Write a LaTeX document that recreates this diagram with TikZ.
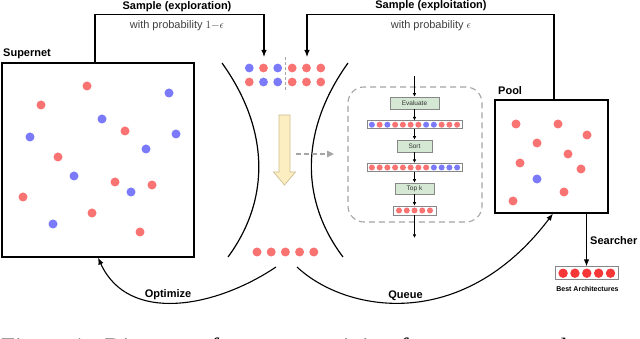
\documentclass[tikz,border=0pt]{standalone}
\usepackage{fontspec}
\setmainfont{Liberation Sans}
\newfontfamily\capfont{Liberation Serif}
\usetikzlibrary{arrows.meta}
\definecolor{dotred}{RGB}{250,115,115}
\definecolor{dotblue}{RGB}{122,122,250}
\definecolor{bestred}{RGB}{245,55,55}
\definecolor{stepgreen}{RGB}{212,232,212}
\definecolor{stepedge}{RGB}{135,135,135}
\definecolor{dashgray}{RGB}{165,165,165}
\definecolor{arrowyellow}{RGB}{252,238,192}
\definecolor{arrowedge}{RGB}{205,190,145}
\begin{document}
\begin{tikzpicture}[x=1pt,y=-1pt,
  every node/.style={inner sep=0pt},
  lbl/.style={font=\bfseries\fontsize{11}{13}\selectfont},
  prob/.style={font=\fontsize{11}{13}\selectfont, text=black!75},
  bigbox/.style={draw, line width=1.2pt},
  stepbox/.style={draw=stepedge, fill=stepgreen, line width=0.6pt, text=black!80, font=\fontsize{6.5}{7}\selectfont},
  rowbox/.style={draw=stepedge, fill=white, line width=0.6pt},
  arr/.style={line width=1.1pt, -{Latex[length=7pt,width=5.5pt]}},
  flow/.style={line width=0.7pt, -{Latex[length=3.5pt,width=3.5pt]}},
  funnel/.style={line width=1.2pt},
]
\useasboundingbox (0,0) rectangle (640,339);
\fill[white] (0,0) rectangle (640,339);
\clip (0,0) rectangle (640,339);

% ---- main boxes
\node[bigbox, minimum width=192pt, minimum height=194pt] (supernet) at (98,160) {};
\node[bigbox, minimum width=113pt, minimum height=113pt] (pool) at (551.5,156.5) {};
\node[lbl, anchor=west] (supernetlbl) at (3,53.5) {Supernet};
\node[lbl, anchor=west] (poollbl) at (498,91) {Pool};

% ---- supernet dots
\foreach \x/\y in {87/86, 41/105, 125/131, 58/157, 115/182, 152/185, 23/197, 92/213, 140/232}
  \fill[dotred] (\x,\y) circle (4.5pt);
\foreach \x/\y in {169/93, 102/119, 30/137, 176/134, 146/149, 74/176, 131/192, 53/224}
  \fill[dotblue] (\x,\y) circle (4.5pt);

% ---- pool dots
\foreach \x/\y in {516/124, 558/124, 587/135, 537/143, 568/154, 520/163, 581/169, 564/192, 513/201}
  \fill[dotred] (\x,\y) circle (4.5pt);
\fill[dotblue] (537,179) circle (4.5pt);

% ---- sampling arrows
\coordinate (explin) at (264,57);
\coordinate (exptin) at (307,57);
\draw[arr] ([xshift=-3pt]supernet.north) -- ++(0,-48) -| (explin);
\draw[arr] ([xshift=2.5pt]pool.north) -- ++(0,-85) -| (exptin);
\node[lbl] (explbl) at (177,6.5) {Sample (exploration)};
\node[prob] (explprob) at (177,25.5) {with probability $1{-}\epsilon$};
\node[lbl] (exptlbl) at (431,6) {Sample (exploitation)};
\node[prob] (exptprob) at (431,25.5) {with probability $\epsilon$};

% ---- sampled batch
\foreach \x/\c in {249.3/dotblue, 263.5/dotred, 277.7/dotblue, 292.2/dotred, 306.5/dotred, 320.8/dotred}
  \fill[\c] (\x,68) circle (4.4pt);
\foreach \x/\c in {249.3/dotred, 263.5/dotblue, 277.7/dotblue, 292.2/dotred, 306.5/dotred, 320.8/dotred}
  \fill[\c] (\x,82) circle (4.4pt);
\draw[dashgray, line width=0.8pt, dash pattern=on 3pt off 2pt] (285,57) -- (285,92);

% ---- funnel
\draw[funnel] (222,63) .. controls (270,130) and (270,200) .. (228,257);
\draw[funnel] (348,63) .. controls (300,130) and (300,200) .. (343,257);

% ---- yellow arrow
\filldraw[fill=arrowyellow, draw=arrowedge, line width=0.7pt]
  (279,115) -- (290,115) -- (290,172) -- (295.5,172) -- (284.5,185) -- (273.5,172) -- (279,172) -- cycle;

% ---- dashed gray arrow
\coordinate (dashstart) at (296,154);
\coordinate (dashend) at (334,154);
\draw[dashgray, line width=1.1pt, dash pattern=on 5pt off 3pt, -{Triangle[length=7pt,width=6.5pt]}] (dashstart) -- (dashend);

% ---- pipeline box
\node[draw=dashgray, line width=1.1pt, dash pattern=on 6pt off 4pt, rounded corners=16pt,
      minimum width=134pt, minimum height=135pt] (pipeline) at (415,154.5) {};

\node[stepbox, minimum width=49pt, minimum height=12pt] (evaluate) at (414.5,103) {Evaluate};
\node[rowbox, minimum width=95pt, minimum height=8pt] (row1) at (414.5,124.7) {};
\foreach \c [count=\i] in {dotblue,dotred,dotblue,dotred,dotred,dotred,dotred,dotblue,dotblue,dotred,dotred,dotred}
  \fill[\c] ({414.5+7.75*(\i-6.5)},124.7) circle (3pt);
\node[stepbox, minimum width=35pt, minimum height=12pt] (sort) at (414.5,146) {Sort};
\node[rowbox, minimum width=95pt, minimum height=8.4pt] (row2) at (414.5,167.5) {};
\foreach \c [count=\i] in {dotred,dotred,dotred,dotred,dotred,dotred,dotred,dotred,dotblue,dotblue,dotblue,dotblue}
  \fill[\c] ({414.5+7.75*(\i-6.5)},167.5) circle (3pt);
\node[stepbox, minimum width=39pt, minimum height=11pt] (topk) at (414.5,188.5) {Top k};
\node[rowbox, minimum width=43pt, minimum height=9pt] (row3) at (414.5,210.5) {};
\foreach \i in {1,...,5}
  \fill[dotred] ({414.5+7.75*(\i-3)},210.5) circle (3pt);

\coordinate (flowin) at (414.5,76);
\coordinate (flowout) at (414.5,238);
\draw[flow] (flowin) -- (evaluate.north);
\draw[flow] (evaluate.south) -- (row1.north);
\draw[flow] (row1.south) -- (sort.north);
\draw[flow] (sort.south) -- (row2.north);
\draw[flow] (row2.south) -- (topk.north);
\draw[flow] (topk.south) -- (row3.north);
\draw[flow] (row3.south) -- (flowout);

% ---- bottom dots
\foreach \x in {257,271.2,285.4,299.6,313.8}
  \fill[dotred] (\x,252) circle (4.5pt);

% ---- optimize / queue
\coordinate (optstart) at (276,267);
\coordinate (questart) at (297,267);
\draw[arr] (optstart) .. controls (215,308) and (128,324) .. (supernet.south);
\draw[arr] (questart) .. controls (345,312) and (462,334) .. ([xshift=1.5pt]pool.south);
\node[lbl] (optlbl) at (168,295) {Optimize};
\node[lbl] (quelbl) at (405.5,296) {Queue};

% ---- searcher
\node[rowbox, minimum width=62.7pt, minimum height=12.6pt] (best) at (586.5,273) {};
\foreach \i in {1,...,5}
  \fill[bestred] ({586.8+11.85*(\i-3)},273.2) circle (4.7pt);
\draw[arr] (best.north |- pool.south) -- (best.north);
\node[lbl, anchor=west] (searchlbl) at (590,241) {Searcher};
\node[font=\bfseries\fontsize{7}{8}\selectfont] (bestlbl) at (587.5,288.5) {Best Architectures};

% ---- caption (cut off by the frame, as in the reference)
\node[anchor=base west, font=\capfont\fontsize{25}{30}\selectfont] (caption) at (1,355)
  {Figure 1:\ \ Diagram of supernet training for our proposed};
\end{tikzpicture}
\end{document}
